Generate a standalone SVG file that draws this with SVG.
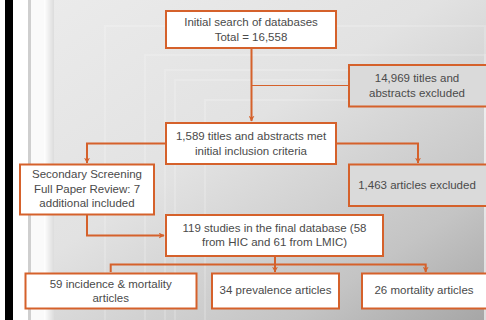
<svg xmlns="http://www.w3.org/2000/svg" width="486" height="320" viewBox="0 0 486 320">
<defs>
<linearGradient id="bg" x1="0" y1="0" x2="1" y2="1">
<stop offset="0" stop-color="#ececec"/>
<stop offset="0.45" stop-color="#e2e2e2"/>
<stop offset="0.8" stop-color="#c4c4c4"/>
<stop offset="1" stop-color="#a6a6a6"/>
</linearGradient>
<linearGradient id="side" x1="0" y1="0" x2="1" y2="0">
<stop offset="0" stop-color="#ffffff"/>
<stop offset="1" stop-color="#dcdcdc"/>
</linearGradient>
<marker id="ah" viewBox="0 0 10 10" refX="9" refY="5" markerWidth="6" markerHeight="6" orient="auto" markerUnits="userSpaceOnUse">
<path d="M0,0 L10,5 L0,10 L3,5 Z" fill="#d5612b"/>
</marker>
<style>
.box{fill:#ffffff;stroke:#d5612b;stroke-width:2}
.gbox{fill:#dadada;stroke:#d5612b;stroke-width:2}
.t{font-family:"Liberation Sans",Arial,sans-serif;font-size:11.5px;fill:#4a4a4a;text-anchor:middle}
.ln{fill:none;stroke:#d5612b;stroke-width:2}
.thin{fill:none;stroke:#d5612b;stroke-width:1.2}
</style>
</defs>
<rect x="0" y="0" width="486" height="320" fill="url(#bg)"/>
<g fill="none" stroke="#ffffff" stroke-opacity="0.18" stroke-width="2">
<rect x="105" y="26" width="380" height="300"/>
<rect x="145" y="55" width="340" height="270"/>
<rect x="165" y="70" width="320" height="255"/>
<rect x="175" y="80" width="310" height="245"/>
<rect x="205" y="100" width="280" height="225"/>
</g>
<rect x="0" y="0" width="5" height="320" fill="#ffffff"/>
<rect x="5" y="0" width="8" height="320" fill="#000000"/>
<rect x="13" y="0" width="15" height="320" fill="#ffffff"/>
<rect x="28" y="0" width="3" height="320" fill="#cfcfcf"/>
<rect x="31" y="0" width="13" height="320" fill="#fafafa"/>
<rect x="44" y="0" width="10" height="320" fill="url(#side)"/>
<g id="connectors">
<path class="ln" d="M251.5,48 V121" marker-end="url(#ah)"/>
<path class="thin" d="M251.5,85.5 H349"/>
<path class="ln" d="M166,143.5 H87 V163" marker-end="url(#ah)"/>
<path class="ln" d="M336,143.5 H418 V163" marker-end="url(#ah)"/>
<path class="ln" d="M87,214 V235.5 H164" marker-end="url(#ah)"/>
<path class="ln" d="M275,256 V272" marker-end="url(#ah)"/>
<path class="ln" d="M110.7,272 V264.5 H425.7 V272" marker-end="url(#ah)"/>
</g>
<g id="n1"><rect class="box" x="166" y="11" width="170" height="37"/>
<text class="t" x="251" y="26">Initial search of databases</text>
<text class="t" x="251" y="40.5">Total = 16,558</text></g>
<g id="n2"><rect class="gbox" x="349" y="65" width="140" height="41.5"/>
<text class="t" x="417" y="81.5">14,969 titles and</text>
<text class="t" x="417" y="96.5">abstracts excluded</text></g>
<g id="n3"><rect class="box" x="166" y="123" width="170" height="41"/>
<text class="t" x="251" y="140">1,589 titles and abstracts met</text>
<text class="t" x="251" y="154.5">initial inclusion criteria</text></g>
<g id="n4"><rect class="box" x="20" y="164.5" width="134" height="50"/>
<text class="t" x="87" y="178">Secondary Screening</text>
<text class="t" x="87" y="193">Full Paper Review: 7</text>
<text class="t" x="87" y="207">additional  included</text></g>
<g id="n5"><rect class="gbox" x="349" y="164.5" width="140" height="41.5"/>
<text class="t" x="417" y="188.5">1,463 articles  excluded</text></g>
<g id="n6"><rect class="box" x="166" y="215" width="217" height="41"/>
<text class="t" x="274.5" y="231.5">119 studies in the final database (58</text>
<text class="t" x="274.5" y="246">from HIC and 61 from LMIC)</text></g>
<g id="n7"><rect class="box" x="25.5" y="273.5" width="171" height="35"/>
<text class="t" x="110.7" y="287.5">59 incidence  &amp; mortality</text>
<text class="t" x="110.7" y="301.5">articles</text></g>
<g id="n8"><rect class="box" x="212" y="273.5" width="127" height="35"/>
<text class="t" x="275.5" y="294">34 prevalence  articles</text></g>
<g id="n9"><rect class="box" x="362" y="273.5" width="127" height="35"/>
<text class="t" x="424" y="294">26 mortality articles</text></g>
</svg>
